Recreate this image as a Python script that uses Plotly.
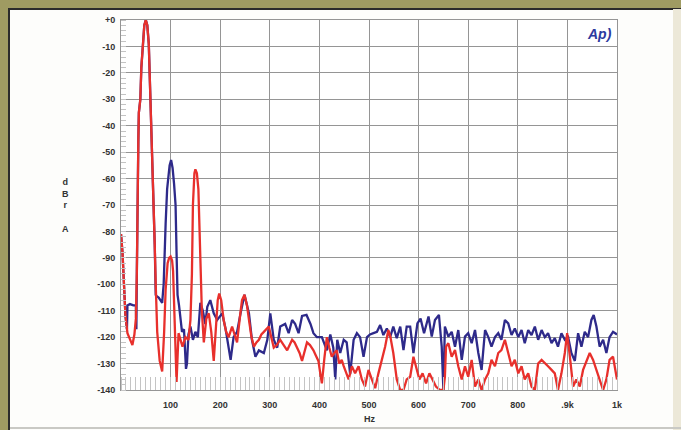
import plotly.graph_objects as go

# ---------------- data ----------------
red_hz = [0, 3, 6, 9, 13, 18, 23, 27, 30, 32, 33, 35, 36, 39, 41, 44, 47, 50, 53, 56, 59, 61, 63, 66, 68, 70,
          73, 78, 83, 87, 90, 94, 97, 100, 103, 105, 108, 112, 116, 120, 124, 130, 136, 140, 143, 145, 148, 150,
          153, 156, 160, 163, 167, 172, 177, 182, 187, 191, 195, 198, 202, 207, 212, 217, 224, 229, 234, 240,
          244, 249, 254, 258, 263, 268, 273, 278, 283, 288, 293, 298, 303, 308, 314, 321, 328, 335, 340, 345,
          350, 355, 360, 365, 370, 375, 381, 388, 393, 398, 402, 405, 410, 415, 420, 425, 430, 435, 440, 445,
          449, 452, 459, 465.5, 472, 479, 485.6, 492, 499, 505.7, 512.5, 519, 526, 532.5, 539, 543, 549, 556,
          563, 569.5, 576, 583, 589.6, 595, 601.6, 608, 615, 621.8, 628.5, 635, 643, 650, 653, 655.3, 660,
          666.7, 673.4, 680, 687, 693.5, 700, 707, 713.7, 720.4, 727, 734, 740.5, 747, 754, 760.6, 767, 774,
          780.7, 787.4, 794, 801, 807.6, 814, 821, 827.7, 834.4, 841, 848, 854.5, 861, 868, 874.6, 881, 888,
          894.8, 899.5, 905, 911.5, 918, 925, 931.6, 938, 945, 951.8, 958.5, 965, 972, 978.6, 985, 992, 997, 1000]
red_db = [-81, -88, -100, -112, -118.5, -121, -123, -119, -113, -95, -68, -45, -35, -30, -18, -9, -2, 0, -2, -9,
          -28, -38, -52, -64, -85, -100, -118, -129, -133, -118, -102, -92, -90, -89.5, -91, -95, -115, -137,
          -118.5, -121, -123.6, -120, -121, -113.5, -96, -70, -58, -56.5, -58, -64, -90, -110, -122, -113, -111,
          -118, -129, -118, -106, -103.5, -106, -113.5, -118, -120, -116, -119, -122, -112, -106, -104, -108,
          -113.5, -120, -123.6, -122, -121, -119, -118, -117, -116, -120, -124, -123, -121, -123, -125, -123,
          -121, -122, -124, -126, -129, -125, -122, -123, -125, -127, -129, -134, -137.5, -128, -120, -124,
          -127.4, -126, -125, -130, -128.6, -131, -132.4, -136, -131, -133.7, -131, -136, -138.7, -132.4, -136,
          -139.3, -133.7, -128.6, -123.6, -117.3, -119.8, -126, -136, -140, -140, -136, -135, -127.4, -131, -136,
          -133.7, -137.5, -133.7, -136, -138.7, -140, -140, -135, -123.6, -122.3, -127.4, -124.9, -131, -136,
          -131, -135, -128.6, -138.7, -136, -140, -136, -133.7, -128.6, -131, -126, -124.9, -121, -126, -131,
          -128.6, -133.7, -131, -136, -133.7, -138.7, -140, -130, -128.6, -130, -131, -132.4, -133.7, -140,
          -133.7, -126, -118.5, -127.4, -138.7, -136, -138.7, -132.4, -129, -126, -128.6, -132.4, -136, -140,
          -136, -128.6, -127.4, -133, -136]

blue_hz = [0, 3, 6, 9, 12, 13, 18, 25, 30, 31, 32, 33, 35, 36, 39, 41, 44, 47, 50, 53, 56, 59, 61, 63, 66, 68,
           70, 72, 76, 80, 83, 86, 88, 90, 93, 96, 98, 101, 104, 107, 110, 112, 114, 117, 120, 123, 127, 131,
           133, 136, 140, 145, 150, 155, 160, 165, 170, 174, 180, 187, 194, 204, 211, 221, 227, 234, 241, 249,
           258, 264, 271, 278, 288, 295, 301, 308, 315, 321, 331, 338, 345, 351, 358, 365, 374, 382, 388, 395,
           405, 415, 422, 428, 432, 436, 442, 449, 455, 462, 469, 475.6, 482, 489, 496, 502, 509, 516, 522.5,
           529, 536, 542.6, 549, 556, 563, 569.5, 576, 583, 589.6, 597.6, 604, 611, 620, 626.5, 633, 641,
           646.6, 650, 653, 660, 666.7, 673.4, 680, 687, 693.5, 700, 707, 713.7, 720.4, 727, 734, 740.5, 747,
           754, 760.6, 767, 774, 780.7, 787.4, 794, 801, 807.6, 814, 821, 827.7, 834.4, 841, 848, 854.5, 861,
           868, 874.6, 881, 888, 894.8, 901.5, 908, 915, 921.6, 928.3, 935, 941.7, 948.4, 953, 958.5, 965, 972,
           978.6, 985, 992, 1000]
blue_db = [-81, -88, -100, -112, -117, -108, -107.5, -108, -108, -117, -95, -68, -45, -35, -30, -18, -9, -2, 0,
           -2, -9, -28, -38, -52, -64, -85, -104, -104.5, -105, -106, -107, -100, -85, -77, -64, -58, -55, -53,
           -56, -62, -70, -88, -104, -108, -112, -118, -117, -132, -130, -119, -116, -121, -118, -120, -107,
           -110, -115, -108.5, -106, -111, -113.5, -111, -117, -128.6, -120, -118, -111, -104, -111, -121,
           -127.4, -125, -126, -121, -111, -121, -124, -116, -115, -118.5, -113.5, -115, -118.5, -112, -111.6,
           -115, -118.5, -120, -120, -125, -119, -124, -136, -121, -126, -121, -122, -134, -121, -118.5, -120,
           -127.4, -120, -119, -118.5, -118, -115.4, -119.2, -116.7, -120, -116, -120.4, -116, -124.9, -116,
           -116, -126, -114.8, -113, -118.5, -112.2, -119.8, -113.5, -111.6, -123.6, -140, -116, -119.8, -118,
           -123.6, -117.3, -128.6, -119.8, -118.5, -122.3, -117.3, -126, -132.4, -117.3, -120, -123.6, -120,
           -118.5, -121, -113.5, -114.8, -119.2, -116.7, -120, -117.3, -122.3, -117.3, -119.2, -116, -121,
           -117.3, -120, -118.5, -122.3, -120.4, -123.6, -118.5, -121, -120, -126, -129, -118.5, -123.6, -118,
           -120, -113.5, -111.6, -116, -123.6, -121, -126, -120, -118, -119]

x_tickvals = [100, 200, 300, 400, 500, 600, 700, 800, 900, 1000]
x_ticktext = ["100", "200", "300", "400", "500", "600", "700", "800", ".9k", "1k"]
y_tickvals = [0, -10, -20, -30, -40, -50, -60, -70, -80, -90, -100, -110, -120, -130, -140]
y_ticktext = ["+0", "-10", "-20", "-30", "-40", "-50", "-60", "-70", "-80", "-90", "-100", "-110", "-120",
              "-130", "-140"]

# ---------------- layout geometry ----------------
W, H = 681, 430
ML, MR, MT, MB = 121, 64, 20, 40
PW, PH = W - ML - MR, H - MT - MB


def px(x):
    return (x - ML) / PW


def py(y):
    return (H - MB - y) / PH


fig = go.Figure()
fig.add_trace(go.Scatter(x=blue_hz, y=blue_db, mode="lines",
                         line=dict(color="#2e2a8a", width=2.3), showlegend=False))
fig.add_trace(go.Scatter(x=red_hz, y=red_db, mode="lines",
                         line=dict(color="#e8302c", width=2.3), showlegend=False))

tickfont = dict(family="Liberation Sans, Arial", size=9, color="#333333", weight="bold")
grid = "#959595"

fig.update_xaxes(range=[0, 1000], tickmode="array", tickvals=x_tickvals, ticktext=x_ticktext,
                 showgrid=True, gridcolor=grid, gridwidth=1, showline=True, linecolor=grid,
                 mirror=True, ticks="", tickfont=tickfont, ticklabelstandoff=6, zeroline=False,
                 minor=dict(ticks="inside", dtick=10, ticklen=13, tickcolor="#c4c4c4",
                            tickwidth=1, showgrid=False))
fig.update_yaxes(range=[-140, 0], tickmode="array", tickvals=y_tickvals, ticktext=y_ticktext,
                 showgrid=True, gridcolor=grid, gridwidth=1, showline=True, linecolor=grid,
                 mirror=True, ticks="", tickfont=tickfont, ticklabelstandoff=3, zeroline=False,
                 minor=dict(ticks="inside", dtick=2, ticklen=5, tickcolor="#c4c4c4",
                            tickwidth=1, showgrid=False))

olive = "#9f9b62"
shapes = [
    dict(type="rect", xref="paper", yref="paper", x0=px(0), x1=px(W), y0=py(8), y1=py(0),
         fillcolor=olive, line=dict(width=0), layer="below"),
    dict(type="rect", xref="paper", yref="paper", x0=px(0), x1=px(8), y0=py(H), y1=py(0),
         fillcolor=olive, line=dict(width=0), layer="below"),
    dict(type="line", xref="paper", yref="paper", x0=px(8), x1=px(W), y0=py(9), y1=py(9),
         line=dict(color="#2b2b2b", width=2), layer="below"),
    dict(type="line", xref="paper", yref="paper", x0=px(9), x1=px(9), y0=py(H), y1=py(9),
         line=dict(color="#2b2b2b", width=2), layer="below"),
    dict(type="rect", xref="paper", yref="paper", x0=px(673), x1=px(W), y0=py(H), y1=py(9),
         fillcolor="#ece8d8", line=dict(width=0), layer="below"),
    dict(type="line", xref="paper", yref="paper", x0=px(10), x1=px(W), y0=py(428), y1=py(428),
         line=dict(color="#c9c9c4", width=2), layer="below"),
]

lblfont = dict(family="Liberation Sans, Arial", size=9, color="#333333", weight="bold")
annotations = [
    dict(text="Hz", xref="paper", yref="paper", x=px(370), y=py(419), showarrow=False,
         xanchor="center", yanchor="middle", font=lblfont),
    dict(text="d<br>B<br>r<br> <br>A", xref="paper", yref="paper", x=px(65), y=py(205),
         showarrow=False, align="center", xanchor="center", yanchor="middle", font=lblfont),
    dict(text="<i>Ap)</i>", xref="paper", yref="paper", x=px(599), y=py(34), showarrow=False,
         xanchor="center", yanchor="middle",
         font=dict(family="Liberation Sans, Arial", size=14, color="#2d3a9e", weight="bold")),
]

fig.update_layout(width=W, height=H, margin=dict(l=ML, r=MR, t=MT, b=MB),
                  paper_bgcolor="#fdfdfb", plot_bgcolor="#ffffff",
                  shapes=shapes, annotations=annotations, showlegend=False)

fig.write_html("out.html")
